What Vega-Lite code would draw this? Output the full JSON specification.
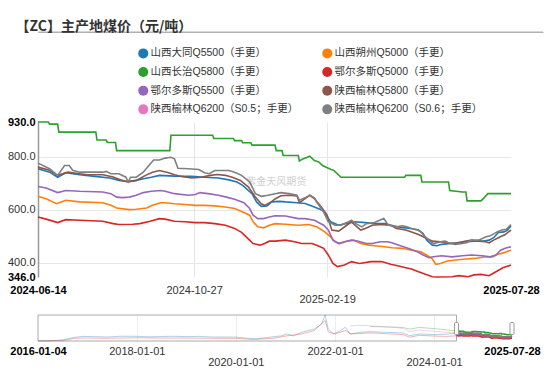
{
"$schema": "https://vega.github.io/schema/vega-lite/v6.json",
"background": "white",
"padding": {"left": 7, "top": 20, "right": 5, "bottom": 3},
"title": {"text": "【ZC】主产地煤价（元/吨）", "anchor": "start", "font": "Noto Sans CJK SC", "fontSize": 14, "fontWeight": "bold", "color": "#333", "offset": -4, "dx": 8},
"config": {"view": {"stroke": null}, "font": "Liberation Sans"},
"spacing": 9,
"resolve": {"scale": {"x": "independent", "y": "independent", "color": "shared"}},
"datasets": {
"main": [
{"date":"2024-06-14","series":"山西大同Q5500（手更）","price":754},
{"date":"2024-06-24","series":"山西大同Q5500（手更）","price":741},
{"date":"2024-07-01","series":"山西大同Q5500（手更）","price":722},
{"date":"2024-07-08","series":"山西大同Q5500（手更）","price":739},
{"date":"2024-07-20","series":"山西大同Q5500（手更）","price":731},
{"date":"2024-08-02","series":"山西大同Q5500（手更）","price":725},
{"date":"2024-08-15","series":"山西大同Q5500（手更）","price":719},
{"date":"2024-08-23","series":"山西大同Q5500（手更）","price":710},
{"date":"2024-08-30","series":"山西大同Q5500（手更）","price":706},
{"date":"2024-09-07","series":"山西大同Q5500（手更）","price":710},
{"date":"2024-09-13","series":"山西大同Q5500（手更）","price":716},
{"date":"2024-09-20","series":"山西大同Q5500（手更）","price":722},
{"date":"2024-09-27","series":"山西大同Q5500（手更）","price":729},
{"date":"2024-10-10","series":"山西大同Q5500（手更）","price":726},
{"date":"2024-10-25","series":"山西大同Q5500（手更）","price":725},
{"date":"2024-11-05","series":"山西大同Q5500（手更）","price":722},
{"date":"2024-11-17","series":"山西大同Q5500（手更）","price":719},
{"date":"2024-11-26","series":"山西大同Q5500（手更）","price":712},
{"date":"2024-12-03","series":"山西大同Q5500（手更）","price":704},
{"date":"2024-12-08","series":"山西大同Q5500（手更）","price":691},
{"date":"2024-12-16","series":"山西大同Q5500（手更）","price":660},
{"date":"2024-12-20","series":"山西大同Q5500（手更）","price":629},
{"date":"2024-12-24","series":"山西大同Q5500（手更）","price":612},
{"date":"2024-12-29","series":"山西大同Q5500（手更）","price":614},
{"date":"2025-01-02","series":"山西大同Q5500（手更）","price":629},
{"date":"2025-01-09","series":"山西大同Q5500（手更）","price":631},
{"date":"2025-01-14","series":"山西大同Q5500（手更）","price":629},
{"date":"2025-01-24","series":"山西大同Q5500（手更）","price":626},
{"date":"2025-01-31","series":"山西大同Q5500（手更）","price":623},
{"date":"2025-02-08","series":"山西大同Q5500（手更）","price":610},
{"date":"2025-02-15","series":"山西大同Q5500（手更）","price":597},
{"date":"2025-02-17","series":"山西大同Q5500（手更）","price":585},
{"date":"2025-02-22","series":"山西大同Q5500（手更）","price":554},
{"date":"2025-03-01","series":"山西大同Q5500（手更）","price":541},
{"date":"2025-03-07","series":"山西大同Q5500（手更）","price":547},
{"date":"2025-03-15","series":"山西大同Q5500（手更）","price":554},
{"date":"2025-03-24","series":"山西大同Q5500（手更）","price":551},
{"date":"2025-04-01","series":"山西大同Q5500（手更）","price":547},
{"date":"2025-04-10","series":"山西大同Q5500（手更）","price":547},
{"date":"2025-04-16","series":"山西大同Q5500（手更）","price":539},
{"date":"2025-04-24","series":"山西大同Q5500（手更）","price":533},
{"date":"2025-05-02","series":"山西大同Q5500（手更）","price":529},
{"date":"2025-05-09","series":"山西大同Q5500（手更）","price":523},
{"date":"2025-05-13","series":"山西大同Q5500（手更）","price":510},
{"date":"2025-05-16","series":"山西大同Q5500（手更）","price":485},
{"date":"2025-05-21","series":"山西大同Q5500（手更）","price":466},
{"date":"2025-05-25","series":"山西大同Q5500（手更）","price":464},
{"date":"2025-05-29","series":"山西大同Q5500（手更）","price":469},
{"date":"2025-06-06","series":"山西大同Q5500（手更）","price":472},
{"date":"2025-06-13","series":"山西大同Q5500（手更）","price":476},
{"date":"2025-06-20","series":"山西大同Q5500（手更）","price":479},
{"date":"2025-06-26","series":"山西大同Q5500（手更）","price":481},
{"date":"2025-07-03","series":"山西大同Q5500（手更）","price":481},
{"date":"2025-07-09","series":"山西大同Q5500（手更）","price":485},
{"date":"2025-07-13","series":"山西大同Q5500（手更）","price":494},
{"date":"2025-07-17","series":"山西大同Q5500（手更）","price":514},
{"date":"2025-07-22","series":"山西大同Q5500（手更）","price":516},
{"date":"2025-07-25","series":"山西大同Q5500（手更）","price":523},
{"date":"2025-07-28","series":"山西大同Q5500（手更）","price":538},
{"date":"2024-06-14","series":"山西朔州Q5000（手更）","price":650},
{"date":"2024-06-21","series":"山西朔州Q5000（手更）","price":641},
{"date":"2024-06-30","series":"山西朔州Q5000（手更）","price":622},
{"date":"2024-07-08","series":"山西朔州Q5000（手更）","price":635},
{"date":"2024-07-20","series":"山西朔州Q5000（手更）","price":629},
{"date":"2024-08-09","series":"山西朔州Q5000（手更）","price":626},
{"date":"2024-08-16","series":"山西朔州Q5000（手更）","price":616},
{"date":"2024-08-21","series":"山西朔州Q5000（手更）","price":606},
{"date":"2024-09-01","series":"山西朔州Q5000（手更）","price":600},
{"date":"2024-09-07","series":"山西朔州Q5000（手更）","price":601},
{"date":"2024-09-16","series":"山西朔州Q5000（手更）","price":606},
{"date":"2024-09-21","series":"山西朔州Q5000（手更）","price":616},
{"date":"2024-09-28","series":"山西朔州Q5000（手更）","price":626},
{"date":"2024-10-02","series":"山西朔州Q5000（手更）","price":626},
{"date":"2024-10-10","series":"山西朔州Q5000（手更）","price":622},
{"date":"2024-10-19","series":"山西朔州Q5000（手更）","price":619},
{"date":"2024-10-28","series":"山西朔州Q5000（手更）","price":616},
{"date":"2024-11-05","series":"山西朔州Q5000（手更）","price":616},
{"date":"2024-11-14","series":"山西朔州Q5000（手更）","price":614},
{"date":"2024-11-23","series":"山西朔州Q5000（手更）","price":610},
{"date":"2024-12-01","series":"山西朔州Q5000（手更）","price":604},
{"date":"2024-12-08","series":"山西朔州Q5000（手更）","price":591},
{"date":"2024-12-14","series":"山西朔州Q5000（手更）","price":579},
{"date":"2024-12-17","series":"山西朔州Q5000（手更）","price":554},
{"date":"2024-12-21","series":"山西朔州Q5000（手更）","price":535},
{"date":"2024-12-26","series":"山西朔州Q5000（手更）","price":531},
{"date":"2024-12-31","series":"山西朔州Q5000（手更）","price":541},
{"date":"2025-01-05","series":"山西朔州Q5000（手更）","price":547},
{"date":"2025-01-14","series":"山西朔州Q5000（手更）","price":545},
{"date":"2025-01-25","series":"山西朔州Q5000（手更）","price":541},
{"date":"2025-02-03","series":"山西朔州Q5000（手更）","price":544},
{"date":"2025-02-10","series":"山西朔州Q5000（手更）","price":535},
{"date":"2025-02-17","series":"山西朔州Q5000（手更）","price":516},
{"date":"2025-02-22","series":"山西朔州Q5000（手更）","price":497},
{"date":"2025-02-26","series":"山西朔州Q5000（手更）","price":479},
{"date":"2025-03-02","series":"山西朔州Q5000（手更）","price":472},
{"date":"2025-03-08","series":"山西朔州Q5000（手更）","price":481},
{"date":"2025-03-14","series":"山西朔州Q5000（手更）","price":485},
{"date":"2025-03-20","series":"山西朔州Q5000（手更）","price":472},
{"date":"2025-03-27","series":"山西朔州Q5000（手更）","price":466},
{"date":"2025-04-01","series":"山西朔州Q5000（手更）","price":464},
{"date":"2025-04-10","series":"山西朔州Q5000（手更）","price":460},
{"date":"2025-04-16","series":"山西朔州Q5000（手更）","price":456},
{"date":"2025-04-25","series":"山西朔州Q5000（手更）","price":454},
{"date":"2025-05-03","series":"山西朔州Q5000（手更）","price":447},
{"date":"2025-05-11","series":"山西朔州Q5000（手更）","price":441},
{"date":"2025-05-16","series":"山西朔州Q5000（手更）","price":429},
{"date":"2025-05-21","series":"山西朔州Q5000（手更）","price":414},
{"date":"2025-05-24","series":"山西朔州Q5000（手更）","price":394},
{"date":"2025-05-28","series":"山西朔州Q5000（手更）","price":397},
{"date":"2025-06-03","series":"山西朔州Q5000（手更）","price":406},
{"date":"2025-06-10","series":"山西朔州Q5000（手更）","price":410},
{"date":"2025-06-19","series":"山西朔州Q5000（手更）","price":414},
{"date":"2025-06-27","series":"山西朔州Q5000（手更）","price":416},
{"date":"2025-07-06","series":"山西朔州Q5000（手更）","price":422},
{"date":"2025-07-12","series":"山西朔州Q5000（手更）","price":422},
{"date":"2025-07-16","series":"山西朔州Q5000（手更）","price":431},
{"date":"2025-07-20","series":"山西朔州Q5000（手更）","price":435},
{"date":"2025-07-24","series":"山西朔州Q5000（手更）","price":441},
{"date":"2025-07-28","series":"山西朔州Q5000（手更）","price":447},
{"date":"2024-06-14","series":"山西长治Q5800（手更）","price":930},
{"date":"2024-06-23","series":"山西长治Q5800（手更）","price":930},
{"date":"2024-06-24","series":"山西长治Q5800（手更）","price":922},
{"date":"2024-07-01","series":"山西长治Q5800（手更）","price":922},
{"date":"2024-07-02","series":"山西长治Q5800（手更）","price":892},
{"date":"2024-08-03","series":"山西长治Q5800（手更）","price":892},
{"date":"2024-08-04","series":"山西长治Q5800（手更）","price":862},
{"date":"2024-08-12","series":"山西长治Q5800（手更）","price":862},
{"date":"2024-08-13","series":"山西长治Q5800（手更）","price":853},
{"date":"2024-08-20","series":"山西长治Q5800（手更）","price":853},
{"date":"2024-08-21","series":"山西长治Q5800（手更）","price":822},
{"date":"2024-10-06","series":"山西长治Q5800（手更）","price":822},
{"date":"2024-10-07","series":"山西长治Q5800（手更）","price":880},
{"date":"2024-11-12","series":"山西长治Q5800（手更）","price":880},
{"date":"2024-11-13","series":"山西长治Q5800（手更）","price":868},
{"date":"2024-11-30","series":"山西长治Q5800（手更）","price":868},
{"date":"2024-12-01","series":"山西长治Q5800（手更）","price":860},
{"date":"2024-12-07","series":"山西长治Q5800（手更）","price":860},
{"date":"2024-12-08","series":"山西长治Q5800（手更）","price":852},
{"date":"2024-12-15","series":"山西长治Q5800（手更）","price":852},
{"date":"2024-12-16","series":"山西长治Q5800（手更）","price":843},
{"date":"2025-01-05","series":"山西长治Q5800（手更）","price":843},
{"date":"2025-01-06","series":"山西长治Q5800（手更）","price":822},
{"date":"2025-01-11","series":"山西长治Q5800（手更）","price":822},
{"date":"2025-01-12","series":"山西长治Q5800（手更）","price":804},
{"date":"2025-01-25","series":"山西长治Q5800（手更）","price":804},
{"date":"2025-01-26","series":"山西长治Q5800（手更）","price":783},
{"date":"2025-01-29","series":"山西长治Q5800（手更）","price":791},
{"date":"2025-02-04","series":"山西长治Q5800（手更）","price":801},
{"date":"2025-02-08","series":"山西长治Q5800（手更）","price":785},
{"date":"2025-02-12","series":"山西长治Q5800（手更）","price":779},
{"date":"2025-02-15","series":"山西长治Q5800（手更）","price":766},
{"date":"2025-02-21","series":"山西长治Q5800（手更）","price":754},
{"date":"2025-02-25","series":"山西长治Q5800（手更）","price":747},
{"date":"2025-03-03","series":"山西长治Q5800（手更）","price":722},
{"date":"2025-04-27","series":"山西长治Q5800（手更）","price":722},
{"date":"2025-04-28","series":"山西长治Q5800（手更）","price":729},
{"date":"2025-05-11","series":"山西长治Q5800（手更）","price":729},
{"date":"2025-05-12","series":"山西长治Q5800（手更）","price":704},
{"date":"2025-06-04","series":"山西长治Q5800（手更）","price":704},
{"date":"2025-06-05","series":"山西长治Q5800（手更）","price":672},
{"date":"2025-06-16","series":"山西长治Q5800（手更）","price":666},
{"date":"2025-06-19","series":"山西长治Q5800（手更）","price":666},
{"date":"2025-06-20","series":"山西长治Q5800（手更）","price":633},
{"date":"2025-07-02","series":"山西长治Q5800（手更）","price":633},
{"date":"2025-07-04","series":"山西长治Q5800（手更）","price":641},
{"date":"2025-07-08","series":"山西长治Q5800（手更）","price":660},
{"date":"2025-07-28","series":"山西长治Q5800（手更）","price":660},
{"date":"2024-06-14","series":"鄂尔多斯Q5000（手更）","price":572},
{"date":"2024-06-21","series":"鄂尔多斯Q5000（手更）","price":564},
{"date":"2024-07-01","series":"鄂尔多斯Q5000（手更）","price":551},
{"date":"2024-07-08","series":"鄂尔多斯Q5000（手更）","price":562},
{"date":"2024-07-20","series":"鄂尔多斯Q5000（手更）","price":560},
{"date":"2024-08-09","series":"鄂尔多斯Q5000（手更）","price":556},
{"date":"2024-08-18","series":"鄂尔多斯Q5000（手更）","price":547},
{"date":"2024-08-23","series":"鄂尔多斯Q5000（手更）","price":544},
{"date":"2024-09-04","series":"鄂尔多斯Q5000（手更）","price":545},
{"date":"2024-09-10","series":"鄂尔多斯Q5000（手更）","price":547},
{"date":"2024-09-19","series":"鄂尔多斯Q5000（手更）","price":556},
{"date":"2024-09-27","series":"鄂尔多斯Q5000（手更）","price":566},
{"date":"2024-10-02","series":"鄂尔多斯Q5000（手更）","price":564},
{"date":"2024-10-10","series":"鄂尔多斯Q5000（手更）","price":556},
{"date":"2024-10-19","series":"鄂尔多斯Q5000（手更）","price":554},
{"date":"2024-10-28","series":"鄂尔多斯Q5000（手更）","price":551},
{"date":"2024-11-05","series":"鄂尔多斯Q5000（手更）","price":551},
{"date":"2024-11-14","series":"鄂尔多斯Q5000（手更）","price":547},
{"date":"2024-11-23","series":"鄂尔多斯Q5000（手更）","price":541},
{"date":"2024-12-01","series":"鄂尔多斯Q5000（手更）","price":529},
{"date":"2024-12-07","series":"鄂尔多斯Q5000（手更）","price":514},
{"date":"2024-12-11","series":"鄂尔多斯Q5000（手更）","price":497},
{"date":"2024-12-17","series":"鄂尔多斯Q5000（手更）","price":472},
{"date":"2024-12-23","series":"鄂尔多斯Q5000（手更）","price":466},
{"date":"2024-12-27","series":"鄂尔多斯Q5000（手更）","price":472},
{"date":"2024-12-31","series":"鄂尔多斯Q5000（手更）","price":481},
{"date":"2025-01-05","series":"鄂尔多斯Q5000（手更）","price":481},
{"date":"2025-01-14","series":"鄂尔多斯Q5000（手更）","price":485},
{"date":"2025-01-22","series":"鄂尔多斯Q5000（手更）","price":479},
{"date":"2025-01-28","series":"鄂尔多斯Q5000（手更）","price":472},
{"date":"2025-02-06","series":"鄂尔多斯Q5000（手更）","price":472},
{"date":"2025-02-11","series":"鄂尔多斯Q5000（手更）","price":464},
{"date":"2025-02-16","series":"鄂尔多斯Q5000（手更）","price":454},
{"date":"2025-02-20","series":"鄂尔多斯Q5000（手更）","price":429},
{"date":"2025-02-24","series":"鄂尔多斯Q5000（手更）","price":397},
{"date":"2025-02-28","series":"鄂尔多斯Q5000（手更）","price":385},
{"date":"2025-03-06","series":"鄂尔多斯Q5000（手更）","price":391},
{"date":"2025-03-12","series":"鄂尔多斯Q5000（手更）","price":404},
{"date":"2025-03-19","series":"鄂尔多斯Q5000（手更）","price":397},
{"date":"2025-03-29","series":"鄂尔多斯Q5000（手更）","price":404},
{"date":"2025-04-07","series":"鄂尔多斯Q5000（手更）","price":404},
{"date":"2025-04-15","series":"鄂尔多斯Q5000（手更）","price":394},
{"date":"2025-04-20","series":"鄂尔多斯Q5000（手更）","price":389},
{"date":"2025-04-28","series":"鄂尔多斯Q5000（手更）","price":381},
{"date":"2025-05-03","series":"鄂尔多斯Q5000（手更）","price":376},
{"date":"2025-05-09","series":"鄂尔多斯Q5000（手更）","price":366},
{"date":"2025-05-15","series":"鄂尔多斯Q5000（手更）","price":356},
{"date":"2025-05-21","series":"鄂尔多斯Q5000（手更）","price":347},
{"date":"2025-05-25","series":"鄂尔多斯Q5000（手更）","price":346},
{"date":"2025-06-07","series":"鄂尔多斯Q5000（手更）","price":347},
{"date":"2025-06-13","series":"鄂尔多斯Q5000（手更）","price":351},
{"date":"2025-06-21","series":"鄂尔多斯Q5000（手更）","price":347},
{"date":"2025-06-26","series":"鄂尔多斯Q5000（手更）","price":354},
{"date":"2025-07-02","series":"鄂尔多斯Q5000（手更）","price":356},
{"date":"2025-07-09","series":"鄂尔多斯Q5000（手更）","price":351},
{"date":"2025-07-15","series":"鄂尔多斯Q5000（手更）","price":366},
{"date":"2025-07-21","series":"鄂尔多斯Q5000（手更）","price":381},
{"date":"2025-07-28","series":"鄂尔多斯Q5000（手更）","price":391},
{"date":"2024-06-14","series":"鄂尔多斯Q5500（手更）","price":687},
{"date":"2024-06-21","series":"鄂尔多斯Q5500（手更）","price":681},
{"date":"2024-07-01","series":"鄂尔多斯Q5500（手更）","price":664},
{"date":"2024-07-08","series":"鄂尔多斯Q5500（手更）","price":672},
{"date":"2024-07-20","series":"鄂尔多斯Q5500（手更）","price":669},
{"date":"2024-08-09","series":"鄂尔多斯Q5500（手更）","price":666},
{"date":"2024-08-16","series":"鄂尔多斯Q5500（手更）","price":660},
{"date":"2024-08-21","series":"鄂尔多斯Q5500（手更）","price":647},
{"date":"2024-08-26","series":"鄂尔多斯Q5500（手更）","price":645},
{"date":"2024-09-01","series":"鄂尔多斯Q5500（手更）","price":647},
{"date":"2024-09-07","series":"鄂尔多斯Q5500（手更）","price":654},
{"date":"2024-09-13","series":"鄂尔多斯Q5500（手更）","price":664},
{"date":"2024-09-20","series":"鄂尔多斯Q5500（手更）","price":669},
{"date":"2024-09-28","series":"鄂尔多斯Q5500（手更）","price":672},
{"date":"2024-10-02","series":"鄂尔多斯Q5500（手更）","price":669},
{"date":"2024-10-10","series":"鄂尔多斯Q5500（手更）","price":660},
{"date":"2024-10-22","series":"鄂尔多斯Q5500（手更）","price":654},
{"date":"2024-10-28","series":"鄂尔多斯Q5500（手更）","price":657},
{"date":"2024-11-01","series":"鄂尔多斯Q5500（手更）","price":664},
{"date":"2024-11-08","series":"鄂尔多斯Q5500（手更）","price":660},
{"date":"2024-11-17","series":"鄂尔多斯Q5500（手更）","price":654},
{"date":"2024-11-24","series":"鄂尔多斯Q5500（手更）","price":647},
{"date":"2024-12-01","series":"鄂尔多斯Q5500（手更）","price":639},
{"date":"2024-12-09","series":"鄂尔多斯Q5500（手更）","price":626},
{"date":"2024-12-14","series":"鄂尔多斯Q5500（手更）","price":604},
{"date":"2024-12-17","series":"鄂尔多斯Q5500（手更）","price":579},
{"date":"2024-12-21","series":"鄂尔多斯Q5500（手更）","price":566},
{"date":"2024-12-26","series":"鄂尔多斯Q5500（手更）","price":566},
{"date":"2024-12-31","series":"鄂尔多斯Q5500（手更）","price":572},
{"date":"2025-01-05","series":"鄂尔多斯Q5500（手更）","price":577},
{"date":"2025-01-14","series":"鄂尔多斯Q5500（手更）","price":576},
{"date":"2025-01-25","series":"鄂尔多斯Q5500（手更）","price":566},
{"date":"2025-01-31","series":"鄂尔多斯Q5500（手更）","price":566},
{"date":"2025-02-08","series":"鄂尔多斯Q5500（手更）","price":560},
{"date":"2025-02-16","series":"鄂尔多斯Q5500（手更）","price":541},
{"date":"2025-02-20","series":"鄂尔多斯Q5500（手更）","price":523},
{"date":"2025-02-24","series":"鄂尔多斯Q5500（手更）","price":485},
{"date":"2025-03-01","series":"鄂尔多斯Q5500（手更）","price":472},
{"date":"2025-03-06","series":"鄂尔多斯Q5500（手更）","price":479},
{"date":"2025-03-12","series":"鄂尔多斯Q5500（手更）","price":485},
{"date":"2025-03-18","series":"鄂尔多斯Q5500（手更）","price":481},
{"date":"2025-03-25","series":"鄂尔多斯Q5500（手更）","price":472},
{"date":"2025-03-30","series":"鄂尔多斯Q5500（手更）","price":472},
{"date":"2025-04-06","series":"鄂尔多斯Q5500（手更）","price":479},
{"date":"2025-04-12","series":"鄂尔多斯Q5500（手更）","price":479},
{"date":"2025-04-16","series":"鄂尔多斯Q5500（手更）","price":475},
{"date":"2025-04-22","series":"鄂尔多斯Q5500（手更）","price":466},
{"date":"2025-04-30","series":"鄂尔多斯Q5500（手更）","price":454},
{"date":"2025-05-08","series":"鄂尔多斯Q5500（手更）","price":441},
{"date":"2025-05-13","series":"鄂尔多斯Q5500（手更）","price":429},
{"date":"2025-05-18","series":"鄂尔多斯Q5500（手更）","price":419},
{"date":"2025-05-22","series":"鄂尔多斯Q5500（手更）","price":422},
{"date":"2025-05-29","series":"鄂尔多斯Q5500（手更）","price":426},
{"date":"2025-06-07","series":"鄂尔多斯Q5500（手更）","price":422},
{"date":"2025-06-16","series":"鄂尔多斯Q5500（手更）","price":426},
{"date":"2025-06-24","series":"鄂尔多斯Q5500（手更）","price":429},
{"date":"2025-07-03","series":"鄂尔多斯Q5500（手更）","price":426},
{"date":"2025-07-10","series":"鄂尔多斯Q5500（手更）","price":422},
{"date":"2025-07-15","series":"鄂尔多斯Q5500（手更）","price":429},
{"date":"2025-07-19","series":"鄂尔多斯Q5500（手更）","price":447},
{"date":"2025-07-23","series":"鄂尔多斯Q5500（手更）","price":454},
{"date":"2025-07-28","series":"鄂尔多斯Q5500（手更）","price":460},
{"date":"2024-06-14","series":"陕西榆林Q5800（手更）","price":760},
{"date":"2024-06-24","series":"陕西榆林Q5800（手更）","price":748},
{"date":"2024-07-01","series":"陕西榆林Q5800（手更）","price":729},
{"date":"2024-07-10","series":"陕西榆林Q5800（手更）","price":741},
{"date":"2024-07-20","series":"陕西榆林Q5800（手更）","price":735},
{"date":"2024-07-27","series":"陕西榆林Q5800（手更）","price":731},
{"date":"2024-08-09","series":"陕西榆林Q5800（手更）","price":731},
{"date":"2024-08-18","series":"陕西榆林Q5800（手更）","price":723},
{"date":"2024-08-26","series":"陕西榆林Q5800（手更）","price":710},
{"date":"2024-08-31","series":"陕西榆林Q5800（手更）","price":704},
{"date":"2024-09-07","series":"陕西榆林Q5800（手更）","price":710},
{"date":"2024-09-15","series":"陕西榆林Q5800（手更）","price":729},
{"date":"2024-09-21","series":"陕西榆林Q5800（手更）","price":741},
{"date":"2024-09-27","series":"陕西榆林Q5800（手更）","price":747},
{"date":"2024-10-05","series":"陕西榆林Q5800（手更）","price":739},
{"date":"2024-10-10","series":"陕西榆林Q5800（手更）","price":731},
{"date":"2024-10-16","series":"陕西榆林Q5800（手更）","price":725},
{"date":"2024-10-25","series":"陕西榆林Q5800（手更）","price":719},
{"date":"2024-11-02","series":"陕西榆林Q5800（手更）","price":722},
{"date":"2024-11-10","series":"陕西榆林Q5800（手更）","price":729},
{"date":"2024-11-16","series":"陕西榆林Q5800（手更）","price":732},
{"date":"2024-11-23","series":"陕西榆林Q5800（手更）","price":729},
{"date":"2024-11-29","series":"陕西榆林Q5800（手更）","price":722},
{"date":"2024-12-06","series":"陕西榆林Q5800（手更）","price":710},
{"date":"2024-12-13","series":"陕西榆林Q5800（手更）","price":685},
{"date":"2024-12-19","series":"陕西榆林Q5800（手更）","price":647},
{"date":"2024-12-24","series":"陕西榆林Q5800（手更）","price":622},
{"date":"2024-12-27","series":"陕西榆林Q5800（手更）","price":616},
{"date":"2025-01-02","series":"陕西榆林Q5800（手更）","price":630},
{"date":"2025-01-05","series":"陕西榆林Q5800（手更）","price":640},
{"date":"2025-01-10","series":"陕西榆林Q5800（手更）","price":652},
{"date":"2025-01-17","series":"陕西榆林Q5800（手更）","price":654},
{"date":"2025-01-24","series":"陕西榆林Q5800（手更）","price":651},
{"date":"2025-01-26","series":"陕西榆林Q5800（手更）","price":626},
{"date":"2025-01-31","series":"陕西榆林Q5800（手更）","price":641},
{"date":"2025-02-04","series":"陕西榆林Q5800（手更）","price":654},
{"date":"2025-02-08","series":"陕西榆林Q5800（手更）","price":641},
{"date":"2025-02-14","series":"陕西榆林Q5800（手更）","price":610},
{"date":"2025-02-19","series":"陕西榆林Q5800（手更）","price":579},
{"date":"2025-02-23","series":"陕西榆林Q5800（手更）","price":523},
{"date":"2025-03-01","series":"陕西榆林Q5800（手更）","price":519},
{"date":"2025-03-08","series":"陕西榆林Q5800（手更）","price":541},
{"date":"2025-03-12","series":"陕西榆林Q5800（手更）","price":554},
{"date":"2025-03-20","series":"陕西榆林Q5800（手更）","price":523},
{"date":"2025-03-24","series":"陕西榆林Q5800（手更）","price":529},
{"date":"2025-03-30","series":"陕西榆林Q5800（手更）","price":541},
{"date":"2025-04-07","series":"陕西榆林Q5800（手更）","price":544},
{"date":"2025-04-13","series":"陕西榆林Q5800（手更）","price":541},
{"date":"2025-04-16","series":"陕西榆林Q5800（手更）","price":539},
{"date":"2025-04-20","series":"陕西榆林Q5800（手更）","price":529},
{"date":"2025-04-28","series":"陕西榆林Q5800（手更）","price":523},
{"date":"2025-05-03","series":"陕西榆林Q5800（手更）","price":516},
{"date":"2025-05-09","series":"陕西榆林Q5800（手更）","price":506},
{"date":"2025-05-15","series":"陕西榆林Q5800（手更）","price":494},
{"date":"2025-05-21","series":"陕西榆林Q5800（手更）","price":481},
{"date":"2025-05-28","series":"陕西榆林Q5800（手更）","price":479},
{"date":"2025-06-03","series":"陕西榆林Q5800（手更）","price":475},
{"date":"2025-06-10","series":"陕西榆林Q5800（手更）","price":472},
{"date":"2025-06-18","series":"陕西榆林Q5800（手更）","price":481},
{"date":"2025-06-24","series":"陕西榆林Q5800（手更）","price":485},
{"date":"2025-06-30","series":"陕西榆林Q5800（手更）","price":481},
{"date":"2025-07-06","series":"陕西榆林Q5800（手更）","price":479},
{"date":"2025-07-09","series":"陕西榆林Q5800（手更）","price":475},
{"date":"2025-07-13","series":"陕西榆林Q5800（手更）","price":485},
{"date":"2025-07-17","series":"陕西榆林Q5800（手更）","price":494},
{"date":"2025-07-23","series":"陕西榆林Q5800（手更）","price":506},
{"date":"2025-07-28","series":"陕西榆林Q5800（手更）","price":523},
{"date":"2024-06-14","series":"陕西榆林Q6200（S0.6；手更）","price":775},
{"date":"2024-06-24","series":"陕西榆林Q6200（S0.6；手更）","price":754},
{"date":"2024-07-01","series":"陕西榆林Q6200（S0.6；手更）","price":729},
{"date":"2024-07-07","series":"陕西榆林Q6200（S0.6；手更）","price":766},
{"date":"2024-07-11","series":"陕西榆林Q6200（S0.6；手更）","price":766},
{"date":"2024-07-14","series":"陕西榆林Q6200（S0.6；手更）","price":748},
{"date":"2024-07-20","series":"陕西榆林Q6200（S0.6；手更）","price":741},
{"date":"2024-08-09","series":"陕西榆林Q6200（S0.6；手更）","price":741},
{"date":"2024-08-12","series":"陕西榆林Q6200（S0.6；手更）","price":744},
{"date":"2024-08-16","series":"陕西榆林Q6200（S0.6；手更）","price":735},
{"date":"2024-08-23","series":"陕西榆林Q6200（S0.6；手更）","price":735},
{"date":"2024-08-29","series":"陕西榆林Q6200（S0.6；手更）","price":722},
{"date":"2024-08-31","series":"陕西榆林Q6200（S0.6；手更）","price":704},
{"date":"2024-09-02","series":"陕西榆林Q6200（S0.6；手更）","price":722},
{"date":"2024-09-07","series":"陕西榆林Q6200（S0.6；手更）","price":722},
{"date":"2024-09-13","series":"陕西榆林Q6200（S0.6；手更）","price":741},
{"date":"2024-09-19","series":"陕西榆林Q6200（S0.6；手更）","price":772},
{"date":"2024-09-22","series":"陕西榆林Q6200（S0.6；手更）","price":787},
{"date":"2024-09-27","series":"陕西榆林Q6200（S0.6；手更）","price":787},
{"date":"2024-10-02","series":"陕西榆林Q6200（S0.6；手更）","price":794},
{"date":"2024-10-07","series":"陕西榆林Q6200（S0.6；手更）","price":797},
{"date":"2024-10-10","series":"陕西榆林Q6200（S0.6；手更）","price":791},
{"date":"2024-10-13","series":"陕西榆林Q6200（S0.6；手更）","price":756},
{"date":"2024-10-22","series":"陕西榆林Q6200（S0.6；手更）","price":754},
{"date":"2024-10-31","series":"陕西榆林Q6200（S0.6；手更）","price":751},
{"date":"2024-11-05","series":"陕西榆林Q6200（S0.6；手更）","price":739},
{"date":"2024-11-09","series":"陕西榆林Q6200（S0.6；手更）","price":735},
{"date":"2024-11-14","series":"陕西榆林Q6200（S0.6；手更）","price":747},
{"date":"2024-11-26","series":"陕西榆林Q6200（S0.6；手更）","price":747},
{"date":"2024-12-01","series":"陕西榆林Q6200（S0.6；手更）","price":741},
{"date":"2024-12-07","series":"陕西榆林Q6200（S0.6；手更）","price":729},
{"date":"2024-12-14","series":"陕西榆林Q6200（S0.6；手更）","price":704},
{"date":"2024-12-19","series":"陕西榆林Q6200（S0.6；手更）","price":660},
{"date":"2024-12-24","series":"陕西榆林Q6200（S0.6；手更）","price":650},
{"date":"2024-12-30","series":"陕西榆林Q6200（S0.6；手更）","price":654},
{"date":"2025-01-05","series":"陕西榆林Q6200（S0.6；手更）","price":660},
{"date":"2025-01-10","series":"陕西榆林Q6200（S0.6；手更）","price":664},
{"date":"2025-01-17","series":"陕西榆林Q6200（S0.6；手更）","price":660},
{"date":"2025-01-24","series":"陕西榆林Q6200（S0.6；手更）","price":654},
{"date":"2025-01-26","series":"陕西榆林Q6200（S0.6；手更）","price":635},
{"date":"2025-02-01","series":"陕西榆林Q6200（S0.6；手更）","price":647},
{"date":"2025-02-04","series":"陕西榆林Q6200（S0.6；手更）","price":654},
{"date":"2025-02-08","series":"陕西榆林Q6200（S0.6；手更）","price":644},
{"date":"2025-02-11","series":"陕西榆林Q6200（S0.6；手更）","price":622},
{"date":"2025-02-16","series":"陕西榆林Q6200（S0.6；手更）","price":591},
{"date":"2025-02-20","series":"陕西榆林Q6200（S0.6；手更）","price":554},
{"date":"2025-02-26","series":"陕西榆林Q6200（S0.6；手更）","price":541},
{"date":"2025-03-03","series":"陕西榆林Q6200（S0.6；手更）","price":541},
{"date":"2025-03-08","series":"陕西榆林Q6200（S0.6；手更）","price":551},
{"date":"2025-03-12","series":"陕西榆林Q6200（S0.6；手更）","price":560},
{"date":"2025-03-16","series":"陕西榆林Q6200（S0.6；手更）","price":547},
{"date":"2025-03-21","series":"陕西榆林Q6200（S0.6；手更）","price":535},
{"date":"2025-03-25","series":"陕西榆林Q6200（S0.6；手更）","price":547},
{"date":"2025-04-01","series":"陕西榆林Q6200（S0.6；手更）","price":551},
{"date":"2025-04-09","series":"陕西榆林Q6200（S0.6；手更）","price":566},
{"date":"2025-04-13","series":"陕西榆林Q6200（S0.6；手更）","price":541},
{"date":"2025-04-16","series":"陕西榆林Q6200（S0.6；手更）","price":541},
{"date":"2025-04-20","series":"陕西榆林Q6200（S0.6；手更）","price":535},
{"date":"2025-04-25","series":"陕西榆林Q6200（S0.6；手更）","price":539},
{"date":"2025-04-29","series":"陕西榆林Q6200（S0.6；手更）","price":535},
{"date":"2025-05-03","series":"陕西榆林Q6200（S0.6；手更）","price":529},
{"date":"2025-05-08","series":"陕西榆林Q6200（S0.6；手更）","price":523},
{"date":"2025-05-11","series":"陕西榆林Q6200（S0.6；手更）","price":516},
{"date":"2025-05-15","series":"陕西榆林Q6200（S0.6；手更）","price":497},
{"date":"2025-05-19","series":"陕西榆林Q6200（S0.6；手更）","price":481},
{"date":"2025-05-22","series":"陕西榆林Q6200（S0.6；手更）","price":472},
{"date":"2025-05-28","series":"陕西榆林Q6200（S0.6；手更）","price":479},
{"date":"2025-06-01","series":"陕西榆林Q6200（S0.6；手更）","price":481},
{"date":"2025-06-05","series":"陕西榆林Q6200（S0.6；手更）","price":472},
{"date":"2025-06-10","series":"陕西榆林Q6200（S0.6；手更）","price":469},
{"date":"2025-06-16","series":"陕西榆林Q6200（S0.6；手更）","price":472},
{"date":"2025-06-20","series":"陕西榆林Q6200（S0.6；手更）","price":476},
{"date":"2025-06-24","series":"陕西榆林Q6200（S0.6；手更）","price":485},
{"date":"2025-06-30","series":"陕西榆林Q6200（S0.6；手更）","price":485},
{"date":"2025-07-06","series":"陕西榆林Q6200（S0.6；手更）","price":497},
{"date":"2025-07-10","series":"陕西榆林Q6200（S0.6；手更）","price":501},
{"date":"2025-07-16","series":"陕西榆林Q6200（S0.6；手更）","price":516},
{"date":"2025-07-20","series":"陕西榆林Q6200（S0.6；手更）","price":523},
{"date":"2025-07-24","series":"陕西榆林Q6200（S0.6；手更）","price":526},
{"date":"2025-07-28","series":"陕西榆林Q6200（S0.6；手更）","price":544}
],
"hist": [
{"date":"2016-01-04","series":"山西大同Q5500（手更）","price":185},
{"date":"2016-04-01","series":"山西大同Q5500（手更）","price":190},
{"date":"2016-07-01","series":"山西大同Q5500（手更）","price":260},
{"date":"2016-10-01","series":"山西大同Q5500（手更）","price":454},
{"date":"2016-12-01","series":"山西大同Q5500（手更）","price":520},
{"date":"2017-03-01","series":"山西大同Q5500（手更）","price":500},
{"date":"2017-06-01","series":"山西大同Q5500（手更）","price":480},
{"date":"2017-09-01","series":"山西大同Q5500（手更）","price":528},
{"date":"2018-01-01","series":"山西大同Q5500（手更）","price":528},
{"date":"2018-04-01","series":"山西大同Q5500（手更）","price":490},
{"date":"2018-07-01","series":"山西大同Q5500（手更）","price":510},
{"date":"2018-10-01","series":"山西大同Q5500（手更）","price":528},
{"date":"2019-01-01","series":"山西大同Q5500（手更）","price":500},
{"date":"2019-04-01","series":"山西大同Q5500（手更）","price":520},
{"date":"2019-07-01","series":"山西大同Q5500（手更）","price":480},
{"date":"2019-10-01","series":"山西大同Q5500（手更）","price":470},
{"date":"2020-01-01","series":"山西大同Q5500（手更）","price":470},
{"date":"2020-04-01","series":"山西大同Q5500（手更）","price":380},
{"date":"2020-06-01","series":"山西大同Q5500（手更）","price":340},
{"date":"2020-09-01","series":"山西大同Q5500（手更）","price":454},
{"date":"2020-12-01","series":"山西大同Q5500（手更）","price":560},
{"date":"2021-01-10","series":"山西大同Q5500（手更）","price":698},
{"date":"2021-03-01","series":"山西大同Q5500（手更）","price":560},
{"date":"2021-05-01","series":"山西大同Q5500（手更）","price":823},
{"date":"2021-08-01","series":"山西大同Q5500（手更）","price":1067},
{"date":"2021-09-24","series":"山西大同Q5500（手更）","price":1436},
{"date":"2021-10-20","series":"山西大同Q5500（手更）","price":2100},
{"date":"2021-11-12","series":"山西大同Q5500（手更）","price":1067},
{"date":"2021-12-20","series":"山西大同Q5500（手更）","price":698},
{"date":"2022-02-10","series":"山西大同Q5500（手更）","price":941},
{"date":"2022-03-18","series":"山西大同Q5500（手更）","price":1192},
{"date":"2022-04-22","series":"山西大同Q5500（手更）","price":698},
{"date":"2022-07-04","series":"山西大同Q5500（手更）","price":823},
{"date":"2022-09-15","series":"山西大同Q5500（手更）","price":868},
{"date":"2023-01-17","series":"山西大同Q5500（手更）","price":823},
{"date":"2023-05-18","series":"山西大同Q5500（手更）","price":772},
{"date":"2023-07-04","series":"山西大同Q5500（手更）","price":572},
{"date":"2023-09-15","series":"山西大同Q5500（手更）","price":698},
{"date":"2024-01-20","series":"山西大同Q5500（手更）","price":646},
{"date":"2024-04-01","series":"山西大同Q5500（手更）","price":690},
{"date":"2024-06-14","series":"山西大同Q5500（手更）","price":754},
{"date":"2022-09-15","series":"山西长治Q5800（手更）","price":1250},
{"date":"2023-01-17","series":"山西长治Q5800（手更）","price":1220},
{"date":"2023-05-18","series":"山西长治Q5800（手更）","price":1180},
{"date":"2023-07-04","series":"山西长治Q5800（手更）","price":1060},
{"date":"2023-09-15","series":"山西长治Q5800（手更）","price":1180},
{"date":"2024-01-20","series":"山西长治Q5800（手更）","price":1080},
{"date":"2024-04-01","series":"山西长治Q5800（手更）","price":1000},
{"date":"2024-06-14","series":"山西长治Q5800（手更）","price":930},
{"date":"2016-01-04","series":"鄂尔多斯Q5000（手更）","price":185},
{"date":"2016-07-01","series":"鄂尔多斯Q5000（手更）","price":200},
{"date":"2016-10-01","series":"鄂尔多斯Q5000（手更）","price":380},
{"date":"2017-01-01","series":"鄂尔多斯Q5000（手更）","price":400},
{"date":"2017-06-01","series":"鄂尔多斯Q5000（手更）","price":380},
{"date":"2018-01-01","series":"鄂尔多斯Q5000（手更）","price":420},
{"date":"2018-07-01","series":"鄂尔多斯Q5000（手更）","price":400},
{"date":"2019-01-01","series":"鄂尔多斯Q5000（手更）","price":400},
{"date":"2019-07-01","series":"鄂尔多斯Q5000（手更）","price":380},
{"date":"2020-01-01","series":"鄂尔多斯Q5000（手更）","price":380},
{"date":"2020-05-01","series":"鄂尔多斯Q5000（手更）","price":290},
{"date":"2020-10-01","series":"鄂尔多斯Q5000（手更）","price":380},
{"date":"2021-01-10","series":"鄂尔多斯Q5000（手更）","price":560},
{"date":"2021-05-01","series":"鄂尔多斯Q5000（手更）","price":700},
{"date":"2021-08-01","series":"鄂尔多斯Q5000（手更）","price":950},
{"date":"2021-10-20","series":"鄂尔多斯Q5000（手更）","price":1700},
{"date":"2021-11-12","series":"鄂尔多斯Q5000（手更）","price":850},
{"date":"2022-01-01","series":"鄂尔多斯Q5000（手更）","price":700},
{"date":"2022-03-18","series":"鄂尔多斯Q5000（手更）","price":950},
{"date":"2022-05-01","series":"鄂尔多斯Q5000（手更）","price":700},
{"date":"2022-09-15","series":"鄂尔多斯Q5000（手更）","price":780},
{"date":"2023-01-17","series":"鄂尔多斯Q5000（手更）","price":720},
{"date":"2023-05-18","series":"鄂尔多斯Q5000（手更）","price":650},
{"date":"2023-07-04","series":"鄂尔多斯Q5000（手更）","price":460},
{"date":"2023-09-15","series":"鄂尔多斯Q5000（手更）","price":600},
{"date":"2024-01-20","series":"鄂尔多斯Q5000（手更）","price":540},
{"date":"2024-04-01","series":"鄂尔多斯Q5000（手更）","price":520},
{"date":"2024-06-14","series":"鄂尔多斯Q5000（手更）","price":572},
{"date":"2022-04-22","series":"陕西榆林Q6200（S0.5；手更）","price":1290},
{"date":"2022-07-04","series":"陕西榆林Q6200（S0.5；手更）","price":1340},
{"date":"2022-09-15","series":"陕西榆林Q6200（S0.5；手更）","price":1300},
{"date":"2022-12-01","series":"陕西榆林Q6200（S0.5；手更）","price":1250},
{"date":"2023-03-01","series":"陕西榆林Q6200（S0.5；手更）","price":1200},
{"date":"2023-05-18","series":"陕西榆林Q6200（S0.5；手更）","price":1100},
{"date":"2023-07-04","series":"陕西榆林Q6200（S0.5；手更）","price":880},
{"date":"2023-09-15","series":"陕西榆林Q6200（S0.5；手更）","price":1000},
{"date":"2024-01-20","series":"陕西榆林Q6200（S0.5；手更）","price":880},
{"date":"2024-04-01","series":"陕西榆林Q6200（S0.5；手更）","price":820},
{"date":"2024-06-01","series":"陕西榆林Q6200（S0.5；手更）","price":790}
]
},
"vconcat": [
{
"width": 505,
"height": 75,
"data": {"values": [{"edge": 0}, {"edge": 1}]},
"mark": {"type": "line", "color": "#b0b0b0", "strokeWidth": 1},
"encoding": {
"x": {"field": "edge", "type": "quantitative", "scale": {"domain": [0, 1], "nice": false, "zero": false},
"axis": {"orient": "top", "labels": false, "ticks": false, "grid": false, "title": null, "domain": true, "domainColor": "#b0b0b0", "domainWidth": 1}},
"y": {"datum": 1, "type": "quantitative", "scale": {"domain": [0, 1], "nice": false}, "axis": null}
}
},
{
"width": 473,
"height": 155,
"layer": [
{
"data": {"values": [{}]},
"mark": {"type": "text", "font": "Noto Sans CJK SC", "fontSize": 10, "color": "#d0d0d0"},
"encoding": {
"x": {"datum": {"year": 2025, "month": 1, "date": 6, "utc": true}, "type": "temporal"},
"y": {"datum": 703, "type": "quantitative"},
"text": {"value": "紫金天风期货"}
}
},
{
"data": {"name": "main"},
"mark": {"type": "line", "strokeWidth": 1.6},
"encoding": {
"x": {"field": "date", "type": "temporal",
"scale": {"type": "utc", "nice": false, "domain": [{"year": 2024, "month": 6, "date": 14, "utc": true}, {"year": 2025, "month": 7, "date": 28, "utc": true}]},
"axis": {"title": null, "domain": false, "ticks": false, "labelFlush": false, "labelOverlap": false, "tickCount": 20,
"values": [{"year": 2024, "month": 6, "date": 14, "utc": true}, {"year": 2024, "month": 10, "date": 27, "utc": true}, {"year": 2025, "month": 2, "date": 19, "utc": true}, {"year": 2025, "month": 7, "date": 28, "utc": true}],
"labelExpr": "utcFormat(datum.value, '%Y-%m-%d')",
"labelFont": "Liberation Sans", "labelFontSize": 11,
"labelFontWeight": {"condition": {"test": "utcFormat(datum.value, '%m-%d') == '06-14' || utcFormat(datum.value, '%m-%d') == '07-28'", "value": "bold"}, "value": "normal"},
"labelColor": {"condition": {"test": "utcFormat(datum.value, '%m-%d') == '06-14' || utcFormat(datum.value, '%m-%d') == '07-28'", "value": "#000"}, "value": "#333"},
"labelPadding": {"condition": {"test": "utcFormat(datum.value, '%m-%d') == '02-19'", "value": 16}, "value": 7},
"grid": true, "gridColor": "#e6e6e6",
"gridOpacity": {"condition": {"test": "utcFormat(datum.value, '%m-%d') == '06-14' || utcFormat(datum.value, '%m-%d') == '07-28'", "value": 0}, "value": 1}}},
"y": {"field": "price", "type": "quantitative",
"scale": {"domain": [346, 930], "nice": false, "zero": false},
"axis": {"title": null, "values": [346, 400, 600, 800, 930], "tickCount": 20, "format": ".1f", "ticks": false, "labelOverlap": false,
"domain": true, "domainColor": "#999", "domainWidth": 1.5, "labelPadding": 3,
"labelFont": "Liberation Sans", "labelFontSize": 11,
"labelFontWeight": {"condition": {"test": "datum.value == 346 || datum.value == 930", "value": "bold"}, "value": "normal"},
"labelColor": {"condition": {"test": "datum.value == 346 || datum.value == 930", "value": "#000"}, "value": "#333"},
"grid": true, "gridColor": "#e6e6e6",
"gridOpacity": {"condition": {"test": "datum.value == 346 || datum.value == 930", "value": 0}, "value": 1}}},
"color": {"field": "series", "type": "nominal",
"scale": {"domain": ["山西大同Q5500（手更）", "山西朔州Q5000（手更）", "山西长治Q5800（手更）", "鄂尔多斯Q5000（手更）", "鄂尔多斯Q5500（手更）", "陕西榆林Q5800（手更）", "陕西榆林Q6200（S0.5；手更）", "陕西榆林Q6200（S0.6；手更）"],
"range": ["#1f77b4", "#ff7f0e", "#2ca02c", "#d62728", "#9467bd", "#8c564b", "#e377c2", "#7f7f7f"]},
"legend": {"orient": "none", "legendX": 100, "legendY": 16, "direction": "horizontal", "columns": 2, "title": null,
"symbolType": "circle", "symbolSize": 100, "symbolStrokeWidth": 0, "padding": 0,
"labelFont": "Liberation Sans, Noto Sans CJK SC", "labelFontSize": 10.5, "labelColor": "#333",
"labelOffset": 2, "labelLimit": 300, "columnPadding": 23, "rowPadding": 7.7,
"encode": {"symbols": {"update": {"fill": {"scale": "color", "field": "value"}, "opacity": {"value": 1}}}}}}
}
}
]
},
{
"width": 474,
"height": 26,
"layer": [
{
"data": {"values": [{}]},
"mark": {"type": "rect", "fill": "transparent", "stroke": "#aaa", "strokeWidth": 1},
"encoding": {
"x": {"datum": {"year": 2016, "month": 1, "date": 4, "utc": true}, "type": "temporal",
"scale": {"type": "utc", "nice": false, "domain": [{"year": 2016, "month": 1, "date": 4, "utc": true}, {"year": 2025, "month": 7, "date": 28, "utc": true}]},
"axis": {"title": null, "domain": false, "ticks": false, "labelFlush": false, "labelOverlap": false, "tickCount": 20,
"values": [{"year": 2016, "month": 1, "date": 4, "utc": true}, {"year": 2018, "month": 1, "date": 1, "utc": true}, {"year": 2020, "month": 1, "date": 1, "utc": true}, {"year": 2022, "month": 1, "date": 1, "utc": true}, {"year": 2024, "month": 1, "date": 1, "utc": true}, {"year": 2025, "month": 7, "date": 28, "utc": true}],
"labelExpr": "utcFormat(datum.value, '%Y-%m-%d')",
"labelFont": "Liberation Sans", "labelFontSize": 11,
"labelFontWeight": {"condition": {"test": "utcFormat(datum.value, '%m-%d') == '01-04' || utcFormat(datum.value, '%m-%d') == '07-28'", "value": "bold"}, "value": "normal"},
"labelColor": {"condition": {"test": "utcFormat(datum.value, '%m-%d') == '01-04' || utcFormat(datum.value, '%m-%d') == '07-28'", "value": "#000"}, "value": "#333"},
"labelPadding": {"condition": {"test": "utcFormat(datum.value, '%Y') == '2020' || utcFormat(datum.value, '%Y') == '2024'", "value": 15}, "value": 4},
"grid": true, "gridColor": "#eeeeee",
"gridOpacity": {"condition": {"test": "utcFormat(datum.value, '%m-%d') == '01-04' || utcFormat(datum.value, '%m-%d') == '07-28'", "value": 0}, "value": 1}}},
"x2": {"datum": {"year": 2024, "month": 6, "date": 14, "utc": true}},
"y": {"datum": 180, "type": "quantitative", "scale": {"domain": [180, 2100], "nice": false, "zero": false}, "axis": null},
"y2": {"datum": 2100}
}
},
{
"data": {"name": "hist"},
"mark": {"type": "line", "strokeWidth": 1, "opacity": 0.35},
"encoding": {
"x": {"field": "date", "type": "temporal"},
"y": {"field": "price", "type": "quantitative"},
"color": {"field": "series", "type": "nominal"}
}
},
{
"data": {"name": "main"},
"mark": {"type": "line", "strokeWidth": 1.5},
"encoding": {
"x": {"field": "date", "type": "temporal"},
"y": {"field": "price", "type": "quantitative"},
"color": {"field": "series", "type": "nominal"}
}
},
{
"data": {"values": [{"date": "2024-06-14"}, {"date": "2025-07-28"}]},
"mark": {"type": "tick", "orient": "vertical", "thickness": 4, "size": 12, "fill": "white", "stroke": "#999", "strokeWidth": 1, "cornerRadius": 1, "opacity": 1},
"encoding": {
"x": {"field": "date", "type": "temporal"},
"y": {"datum": 1100, "type": "quantitative"}
}
}
]
}
]
}
